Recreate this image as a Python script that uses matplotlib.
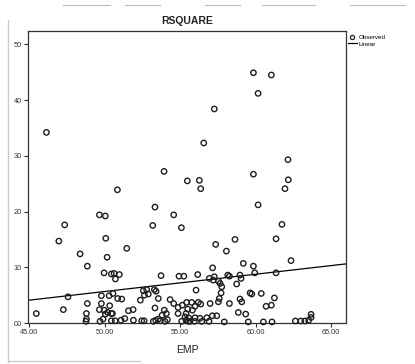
import matplotlib
matplotlib.use("Agg")
import matplotlib.pyplot as plt
import numpy as np
from matplotlib.lines import Line2D

plt.rcParams['font.family'] = ['Liberation Sans', 'DejaVu Sans']

# ---- data ----
emp_upper = [46.15, 50.85, 53.94, 55.48, 59.86, 61.05, 60.17, 57.27, 56.57, 62.15,
             59.86, 62.17, 61.95, 56.28, 56.37]
rsq_upper = [34.2, 23.9, 27.2, 25.5, 44.9, 44.5, 41.2, 38.4, 32.3, 29.3,
             26.7, 25.7, 24.1, 25.6, 24.1]

emp_left = [49.66, 50.05, 47.36, 46.97, 50.08, 48.38, 50.17, 48.86, 49.97, 50.45,
            47.58, 49.79, 50.30, 48.86, 49.79, 49.66, 49.97, 50.34, 47.27, 45.48,
            48.80, 50.05, 48.80, 49.90, 50.45, 50.45, 49.70]
rsq_left = [19.4, 19.2, 17.6, 14.7, 15.2, 12.4, 11.8, 10.2, 9.0, 8.8,
            4.7, 4.9, 4.9, 3.5, 3.5, 2.4, 2.3, 3.1, 2.4, 1.7,
            1.7, 1.6, 0.7, 0.7, 1.7, 0.4, 0.3]

emp_mid = [53.34, 54.58, 53.19, 55.09, 51.47, 50.63, 50.98, 50.72, 53.74, 54.93,
           55.25, 50.56, 52.57, 52.79, 53.30, 53.41, 52.64, 52.90, 52.37, 50.87,
           51.14, 53.56, 54.34, 54.58, 54.87, 55.15, 55.44, 50.52, 50.21, 51.58,
           51.89, 53.34, 53.96, 54.09, 53.81, 54.87, 55.40, 55.33]
rsq_mid = [20.8, 19.4, 17.5, 17.1, 13.4, 8.9, 8.7, 7.9, 8.5, 8.4,
           8.4, 5.3, 5.8, 6.0, 6.0, 5.7, 5.0, 5.2, 4.1, 4.4,
           4.3, 4.4, 4.2, 3.5, 2.8, 3.2, 3.7, 1.7, 1.9, 2.2,
           2.4, 2.7, 2.3, 1.7, 1.4, 1.7, 1.7, 1.1]

emp_right = [60.17, 58.64, 57.36, 58.07, 59.19, 59.86, 59.95, 57.16, 56.17, 56.94,
             57.27, 57.54, 58.16, 58.27, 58.97, 59.04, 58.75, 57.65, 57.76, 57.72,
             57.60, 57.54, 56.06, 59.64, 59.75, 60.38, 58.97, 59.09, 58.27, 56.99,
             56.21, 56.37, 55.77, 55.99, 55.82, 55.51, 60.70, 58.86, 59.35, 56.77,
             57.14, 57.43, 56.32, 55.99, 57.20, 61.75, 61.36, 62.35, 61.36, 61.25,
             61.05, 63.68, 63.68, 63.52]
rsq_right = [21.2, 15.0, 14.1, 12.9, 10.7, 10.2, 9.0, 9.9, 8.7, 8.0,
             8.3, 7.5, 8.6, 8.4, 8.6, 8.0, 7.0, 7.1, 6.5, 5.4,
             4.4, 3.8, 5.9, 5.4, 5.2, 5.3, 4.3, 3.8, 3.5, 3.5,
             3.7, 3.4, 3.7, 3.0, 2.3, 2.5, 3.0, 1.9, 1.6, 0.95,
             1.3, 1.3, 0.85, 0.95, 7.7, 17.7, 15.1, 11.2, 9.0, 4.5,
             3.2, 1.0, 1.56, 0.5]

emp_floor = [48.77, 50.70, 51.09, 51.34, 51.91, 52.46, 52.62, 53.23, 53.39, 53.56,
             53.70, 54.00, 54.16, 55.11, 55.40, 55.58, 55.55, 55.66, 55.95, 56.44,
             56.92, 57.93, 59.52, 60.52, 61.09, 62.64, 63.00, 63.26]
rsq_floor = [0.3, 0.4, 0.5, 0.8, 0.5, 0.4, 0.4, 0.3, 0.5, 0.7,
             0.4, 0.3, 0.6, 0.3, 0.5, 0.9, 0.3, 0.3, 0.3, 0.3,
             0.3, 0.2, 0.2, 0.2, 0.2, 0.36, 0.36, 0.36]

linear_coef = [-9.85, 0.31]   # intercept, slope of the fitted "Linear" line
x_ticks = [45, 50, 55, 60, 65]
x_ticklabels = ["45.00", "50.00", "55.00", "60.00", "65.00"]
y_ticks = [0, 10, 20, 30, 40, 50]
y_ticklabels = ["00", "10", "20", "30", "40", "50"]

emp = np.array(emp_upper + emp_left + emp_mid + emp_right + emp_floor)
rsq = np.array(rsq_upper + rsq_left + rsq_mid + rsq_right + rsq_floor)

# ---- figure ----
fig = plt.figure(figsize=(4.15, 3.64), dpi=100)
ax = fig.add_axes([0.0675, 0.1126, 0.7665, 0.8024])

ax.scatter(emp, rsq, s=15, facecolors='none', edgecolors='#1e1e1e',
           linewidths=1.0, clip_on=False, zorder=3)
xl = np.array([44.93, 66.0])
ax.plot(xl, linear_coef[0] + linear_coef[1] * xl, color='black', lw=0.9, zorder=2)

ax.set_xlim(44.93, 66.0)
ax.set_ylim(0, 52.4)
ax.set_xticks(x_ticks)
ax.set_xticklabels(x_ticklabels)
ax.set_yticks(y_ticks)
ax.set_yticklabels(y_ticklabels)
ax.tick_params(direction='out', length=3, width=0.8, labelsize=5.3, pad=1.5,
               colors='#333333')
for s in ax.spines.values():
    s.set_color('#333333')
    s.set_linewidth(0.9)

ax.set_title("RSQUARE", fontsize=7.5, fontweight='bold', pad=5, color='#222222')
ax.set_xlabel("EMP", fontsize=7.5, labelpad=6, color='#222222')

handles = [Line2D([], [], marker='o', ls='none', markerfacecolor='none',
                  markeredgecolor='#222222', markersize=3, markeredgewidth=0.9),
           Line2D([], [], color='black', lw=0.9)]
fig.legend(handles, ["Observed", "Linear"], loc='upper left',
           bbox_to_anchor=(0.838, 0.905), frameon=False, fontsize=4.5,
           handlelength=1.4, handletextpad=0.3, labelspacing=0.2,
           borderaxespad=0, borderpad=0)

# faint scan frame
W, H = 415.0, 364.0
fig.add_artist(Line2D([8 / W, 8 / W], [1 - 20 / H, 1 - 362 / H],
                      transform=fig.transFigure, color='#cccccc', lw=1))
fig.add_artist(Line2D([8 / W, 140 / W], [1 - 361 / H, 1 - 361 / H],
                      transform=fig.transFigure, color='#cccccc', lw=1))
for a, b in [(63, 110), (125, 160), (205, 240), (262, 315), (350, 405)]:
    fig.add_artist(Line2D([a / W, b / W], [1 - 5 / H, 1 - 5 / H],
                          transform=fig.transFigure, color='#bbbbbb', lw=0.8))

fig.savefig("out.png", dpi=100)
